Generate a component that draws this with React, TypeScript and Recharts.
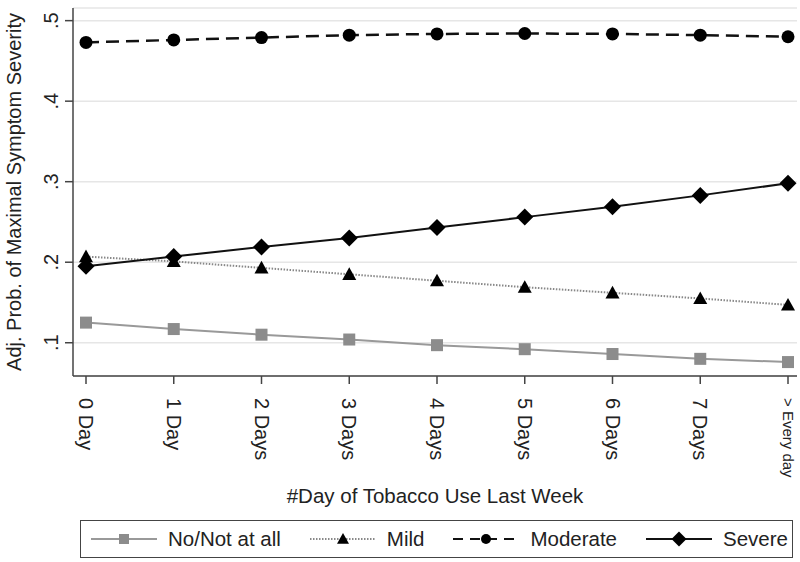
import { LineChart, Line, XAxis, YAxis, CartesianGrid } from 'recharts'

const dayLabels = ['0 Day', '1 Day', '2 Days', '3 Days', '4 Days', '5 Days', '6 Days', '7 Days', '> Every day']
const noneValues = [0.125, 0.117, 0.110, 0.104, 0.097, 0.092, 0.086, 0.080, 0.076]
const mildValues = [0.207, 0.201, 0.193, 0.185, 0.177, 0.169, 0.162, 0.155, 0.147]
const moderateValues = [0.473, 0.476, 0.479, 0.482, 0.4835, 0.484, 0.4835, 0.482, 0.480]
const severeValues = [0.195, 0.207, 0.219, 0.230, 0.243, 0.256, 0.269, 0.283, 0.298]
const yTicks = [0.1, 0.2, 0.3, 0.4, 0.5]

const seriesNames = ['No/Not at all', 'Mild', 'Moderate', 'Severe']

const chartData = dayLabels.map((day, i) => ({
  day,
  none: noneValues[i],
  mild: mildValues[i],
  moderate: moderateValues[i],
  severe: severeValues[i],
}))

const FONT = '"Liberation Sans", Arial, sans-serif'
const AXIS = '#444'

// marker shapes
const Square = ({ cx, cy, s = 6 }: any) => (
  <rect x={cx - s} y={cy - s} width={s * 2} height={s * 2} fill="#8c8c8c" />
)
const Triangle = ({ cx, cy, s = 7 }: any) => (
  <polygon points={`${cx},${cy - s} ${cx + s},${cy + s * 0.8} ${cx - s},${cy + s * 0.8}`} fill="#000" />
)
const Circle = ({ cx, cy, r = 6.5 }: any) => <circle cx={cx} cy={cy} r={r} fill="#000" />
const Diamond = ({ cx, cy, s = 8.5 }: any) => (
  <polygon points={`${cx},${cy - s} ${cx + s},${cy} ${cx},${cy + s} ${cx - s},${cy}`} fill="#000" />
)

const XTick = ({ x, y, payload }: any) => {
  const small = payload.value === '> Every day'
  const tx = x - (small ? 5 : 7)
  const ty = y + 12
  return (
    <text
      x={tx}
      y={ty}
      transform={`rotate(90, ${tx}, ${ty})`}
      textAnchor="start"
      fontSize={small ? 15 : 20}
      fontFamily={FONT}
      fill="#222"
    >
      {payload.value}
    </text>
  )
}

const YTick = ({ y, payload }: any) => (
  <text
    x={58}
    y={y}
    transform={`rotate(-90, 58, ${y})`}
    textAnchor="middle"
    fontSize={20}
    fontFamily={FONT}
    fill="#222"
  >
    {String(payload.value).replace('0.', '.')}
  </text>
)

const LegendIcon = ({ kind }: { kind: number }) => {
  const line = [
    <line key="l" x1={2} y1={10} x2={68} y2={10} stroke="#999" strokeWidth={2} />,
    <line key="l" x1={2} y1={10} x2={68} y2={10} stroke="#888" strokeWidth={2} strokeDasharray="1.5 1.5" />,
    <line key="l" x1={2} y1={10} x2={68} y2={10} stroke="#111" strokeWidth={2} strokeDasharray="10 7" />,
    <line key="l" x1={2} y1={10} x2={68} y2={10} stroke="#111" strokeWidth={2} />,
  ][kind]
  const mark = [
    <Square key="m" cx={35} cy={10} s={5} />,
    <Triangle key="m" cx={35} cy={10} s={6} />,
    <Circle key="m" cx={35} cy={10} r={5} />,
    <Diamond key="m" cx={35} cy={10} s={7.5} />,
  ][kind]
  return (
    <svg width={70} height={20} style={{ display: 'block', flexShrink: 0 }}>
      {line}
      {mark}
    </svg>
  )
}

export default function App() {
  return (
    <div style={{ position: 'absolute', left: 0, top: 0, width: 800, height: 562, background: '#fff' }}>
      <LineChart width={800} height={562} data={chartData} margin={{ top: 8, right: 3, bottom: 0, left: 0 }}>
        <CartesianGrid vertical={false} stroke="#e6e6e6" strokeWidth={1.5} />
        <XAxis
          dataKey="day"
          height={186}
          padding={{ left: 13, right: 9 }}
          interval={0}
          tickSize={8}
          axisLine={{ stroke: AXIS, strokeWidth: 1.5 }}
          tickLine={{ stroke: AXIS, strokeWidth: 1.5 }}
          tick={<XTick />}
          label={{
            value: '#Day of Tobacco Use Last Week',
            position: 'insideBottom',
            offset: 59,
            fontSize: 20.5,
            fontFamily: FONT,
            fill: '#222',
          }}
        />
        <YAxis
          width={73}
          type="number"
          domain={[0.0587, 0.5157]}
          allowDataOverflow
          ticks={yTicks}
          tickSize={8}
          axisLine={{ stroke: AXIS, strokeWidth: 1.5 }}
          tickLine={{ stroke: AXIS, strokeWidth: 1.5 }}
          tick={<YTick />}
          label={{
            value: 'Adj. Prob. of Maximal Symptom Severity',
            angle: -90,
            position: 'insideLeft',
            offset: 14,
            fontSize: 20,
            fontFamily: FONT,
            fill: '#222',
            style: { textAnchor: 'middle' },
          }}
        />
        <Line
          dataKey="none"
          name={seriesNames[0]}
          stroke="#999"
          strokeWidth={2}
          isAnimationActive={false}
          dot={(p: any) => <Square key={`n${p.index}`} cx={p.cx} cy={p.cy} />}
        />
        <Line
          dataKey="mild"
          name={seriesNames[1]}
          stroke="#888"
          strokeWidth={2}
          strokeDasharray="1.5 1.5"
          isAnimationActive={false}
          dot={(p: any) => <Triangle key={`m${p.index}`} cx={p.cx} cy={p.cy} />}
        />
        <Line
          dataKey="moderate"
          name={seriesNames[2]}
          stroke="#111"
          strokeWidth={2.5}
          strokeDasharray="13 7"
          isAnimationActive={false}
          dot={(p: any) => <Circle key={`o${p.index}`} cx={p.cx} cy={p.cy} />}
        />
        <Line
          dataKey="severe"
          name={seriesNames[3]}
          stroke="#111"
          strokeWidth={2}
          isAnimationActive={false}
          dot={(p: any) => <Diamond key={`s${p.index}`} cx={p.cx} cy={p.cy} />}
        />
      </LineChart>
      <div
        style={{
          position: 'absolute',
          left: 80,
          top: 520,
          width: 713,
          height: 38,
          border: `1.5px solid ${AXIS}`,
          display: 'flex',
          alignItems: 'center',
          paddingLeft: 8,
          boxSizing: 'border-box',
          fontFamily: FONT,
          fontSize: 20.5,
          color: '#222',
          whiteSpace: 'nowrap',
          overflow: 'hidden',
        }}
      >
        {seriesNames.map((name, i) => (
          <div key={name} style={{ display: 'flex', alignItems: 'center', marginRight: 27, flexShrink: 0 }}>
            <LegendIcon kind={i} />
            <span style={{ marginLeft: 9 }}>{name}</span>
          </div>
        ))}
      </div>
    </div>
  )
}
